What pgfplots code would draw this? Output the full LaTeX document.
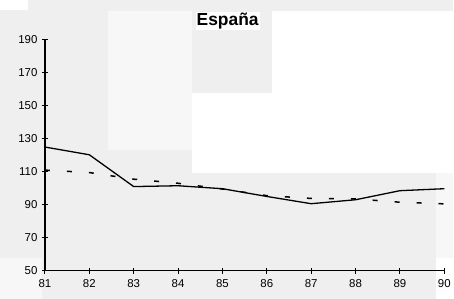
\documentclass[border=0pt]{standalone}
\usepackage{pgfplots}
\pgfplotsset{compat=1.18}
\usepackage{fontspec}
\setmainfont{Liberation Sans}
\definecolor{bg}{HTML}{EFEFEF}
\definecolor{bgl}{HTML}{F7F7F7}
\begin{document}
\begin{tikzpicture}[x=1bp,y=1bp]
\fill[bg] (0,0) rectangle (454,299);
\fill[white] (0,289) rectangle (28,299);
\fill[bgl] (108,149) rectangle (192,288);
\fill[white] (192,126) rectangle (272,206);
\fill[white] (272,126) rectangle (454,288);
\fill[bgl] (437,41) rectangle (454,126);
\fill[white] (437,0) rectangle (454,41);
\fill[bgl] (0,0) rectangle (42,41);
\node[font=\bfseries\fontsize{17.5}{20}\selectfont, fill=white, inner sep=1bp] at (228,278) {España};
\begin{axis}[
  at={(45bp,28bp)}, anchor=south west,
  scale only axis, width=400bp, height=231bp,
  xmin=81, xmax=90, ymin=50, ymax=190,
  axis x line=bottom, axis y line=left,
  axis line style={-, line width=1.3pt},
  xtick={81,...,90}, ytick={50,70,...,190},
  tick align=center, major tick length=6bp,
  tick style={line width=1pt, black},
  ticklabel style={font=\fontsize{11.5}{13}\selectfont},
  /pgf/number format/assume math mode=true,
  xticklabel style={yshift=-2bp},
  yticklabel style={xshift=-1bp},
  clip=false,
]
\addplot[black, line width=1.3pt] coordinates {
(81,125) (82,120.3) (83,101) (84,101.5) (85,99.7) (86,95) (87,90.6) (88,93) (89,98.5) (90,99.7)};
\addplot[black, line width=1.5pt, dash pattern=on 5bp off 17bp] coordinates {
(81,111) (82,109.5) (83,105.5) (84,103) (85,99.5) (86,95.5) (87,93.8) (88,93.5) (89,91.5) (90,90.5)};
\end{axis}
\end{tikzpicture}
\end{document}
